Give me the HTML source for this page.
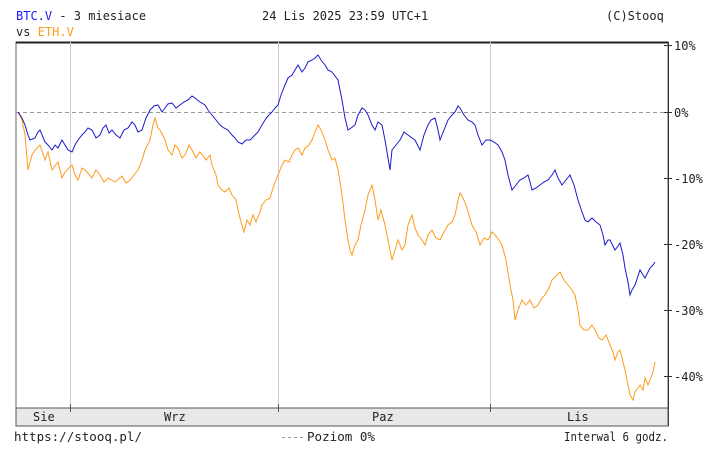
<!DOCTYPE html>
<html><head><meta charset="utf-8"><style>
body{margin:0;background:#fff;width:712px;height:448px;overflow:hidden}
text{font-family:"DejaVu Sans Mono","Liberation Mono",monospace;font-size:12px;fill:#222}
</style></head><body>
<svg width="712" height="448" xmlns="http://www.w3.org/2000/svg">
<text x="16" y="20"><tspan style="fill:#1a1aff">BTC.V</tspan> - 3 miesiace</text>
<text x="16" y="36">vs <tspan style="fill:#ff9a1a">ETH.V</tspan></text>
<text x="262" y="20">24 Lis 2025 23:59 UTC+1</text>
<text x="606" y="20">(C)Stooq</text>
<rect x="16" y="42" width="652" height="366" fill="none" stroke="#666" stroke-width="1"/>
<line x1="16" y1="42.5" x2="668" y2="42.5" stroke="#222" stroke-width="2"/>
<g stroke="#ccc" stroke-width="1">
<line x1="70.5" y1="42" x2="70.5" y2="408"/><line x1="278.5" y1="42" x2="278.5" y2="408"/><line x1="490.5" y1="42" x2="490.5" y2="408"/>
</g>
<line x1="16" y1="112.5" x2="668" y2="112.5" stroke="#999" stroke-dasharray="4,3"/>
<line x1="668.5" y1="42" x2="668.5" y2="426" stroke="#333"/>
<g stroke="#333"><line x1="664" y1="45.5" x2="672" y2="45.5"/><line x1="664" y1="112.5" x2="672" y2="112.5"/><line x1="664" y1="178.5" x2="672" y2="178.5"/><line x1="664" y1="244.5" x2="672" y2="244.5"/><line x1="664" y1="310.5" x2="672" y2="310.5"/><line x1="664" y1="376.5" x2="672" y2="376.5"/></g>
<text x="674" y="50">10%</text><text x="674" y="117">0%</text><text x="674" y="183">-10%</text><text x="674" y="249">-20%</text><text x="674" y="315">-30%</text><text x="674" y="381">-40%</text>
<rect x="16" y="408" width="652" height="18" fill="#e8e8e8" stroke="#555"/>
<g stroke="#555"><line x1="70.5" y1="404" x2="70.5" y2="412"/><line x1="278.5" y1="404" x2="278.5" y2="412"/><line x1="490.5" y1="404" x2="490.5" y2="412"/></g>
<text x="33" y="421">Sie</text><text x="164" y="421">Wrz</text><text x="372" y="421">Paz</text><text x="567" y="421">Lis</text>
<text x="14" y="441" textLength="128" lengthAdjust="spacingAndGlyphs">https://stooq.pl/</text>
<line x1="282" y1="437.5" x2="304" y2="437.5" stroke="#999" stroke-dasharray="3,3"/>
<text x="307" y="441" textLength="68" lengthAdjust="spacingAndGlyphs">Poziom 0%</text>
<text x="564" y="441" textLength="104" lengthAdjust="spacingAndGlyphs">Interwal 6 godz.</text>
<polyline fill="none" stroke="#ff9a1a" stroke-width="1" points="18,112 22,120 25,135 28,170 32,155 35,150 40,145 45,160 48,152 52,170 58,162 62,178 65,172 72,165 75,175 78,180 82,168 85,170 92,178 96,170 100,175 104,182 108,178 115,182 122,176 126,183 130,180 134,175 138,170 142,160 145,150 150,140 153,125 155,118 158,128 160,130 165,140 168,150 172,155 175,145 178,148 182,158 185,155 189,145 192,150 196,158 200,152 206,160 210,155 212,165 216,175 218,185 222,190 225,192 229,188 232,195 236,200 238,210 241,222 244,232 247,220 250,225 253,215 256,222 260,212 262,205 266,200 270,198 274,185 278,175 282,165 285,160 289,162 292,155 295,150 298,148 302,155 305,148 309,145 312,140 315,132 318,125 321,130 325,140 328,150 332,160 335,158 338,170 340,182 342,195 345,220 348,240 350,250 352,255 355,245 358,240 361,225 365,210 368,195 372,185 375,200 378,220 381,210 385,225 388,240 392,260 395,250 398,240 402,250 405,245 408,225 412,215 415,228 418,235 422,240 425,245 428,235 432,230 436,238 440,240 444,232 448,225 452,222 455,215 458,200 460,193 463,198 466,205 469,215 472,225 476,232 480,245 484,238 488,240 492,232 495,235 499,240 502,245 506,260 510,285 513,300 515,320 518,310 522,300 526,305 530,300 534,308 538,305 542,298 545,295 549,288 552,280 556,276 560,272 564,280 568,285 572,290 575,295 578,310 580,325 584,330 588,330 592,325 595,330 599,338 602,340 606,335 610,345 613,352 615,360 618,352 620,350 623,362 625,370 628,385 630,395 633,400 635,392 638,388 640,385 643,390 645,378 648,385 650,380 653,372 655,362"/>
<polyline fill="none" stroke="#1a1acc" stroke-width="1" points="18,112 22,118 25,125 28,135 30,140 35,138 38,132 40,130 45,142 48,145 52,150 55,145 58,148 62,140 65,145 68,150 72,152 75,145 78,140 82,135 85,132 88,128 92,130 96,138 100,135 103,128 106,125 109,133 112,130 116,135 120,138 124,130 128,128 132,122 135,125 138,132 142,130 146,118 150,110 154,106 158,105 162,112 165,108 168,104 172,103 176,108 180,105 184,102 188,100 192,96 195,98 200,102 205,105 208,110 212,115 216,120 220,125 224,128 228,130 232,135 235,138 238,142 242,144 246,140 250,140 254,136 258,132 262,125 265,120 268,116 272,112 275,108 278,105 281,95 285,85 288,78 292,75 295,70 298,65 302,72 305,68 308,62 312,60 315,58 318,55 321,60 325,65 328,70 332,72 335,76 338,80 340,90 342,100 345,118 348,130 351,128 355,125 358,115 362,108 365,110 368,115 372,125 375,130 378,122 382,125 385,140 388,158 390,170 392,150 396,145 400,140 404,132 408,135 412,138 415,140 418,146 420,150 424,135 428,125 431,120 435,118 438,130 440,140 444,130 448,120 452,115 455,112 458,106 460,108 464,115 468,120 472,122 475,125 478,135 482,145 486,140 490,140 494,142 498,145 502,152 505,160 508,175 512,190 516,185 520,180 524,178 528,175 530,182 532,190 536,188 540,185 544,182 548,180 552,175 555,170 558,178 562,185 566,180 570,175 574,185 578,200 582,212 585,220 588,222 592,218 596,222 600,225 603,235 605,245 608,240 610,240 613,246 615,250 618,246 620,243 623,255 625,268 628,282 630,295 632,290 635,285 638,276 640,270 643,275 645,278 648,272 650,268 653,265 655,262"/>
</svg>
</body></html>
